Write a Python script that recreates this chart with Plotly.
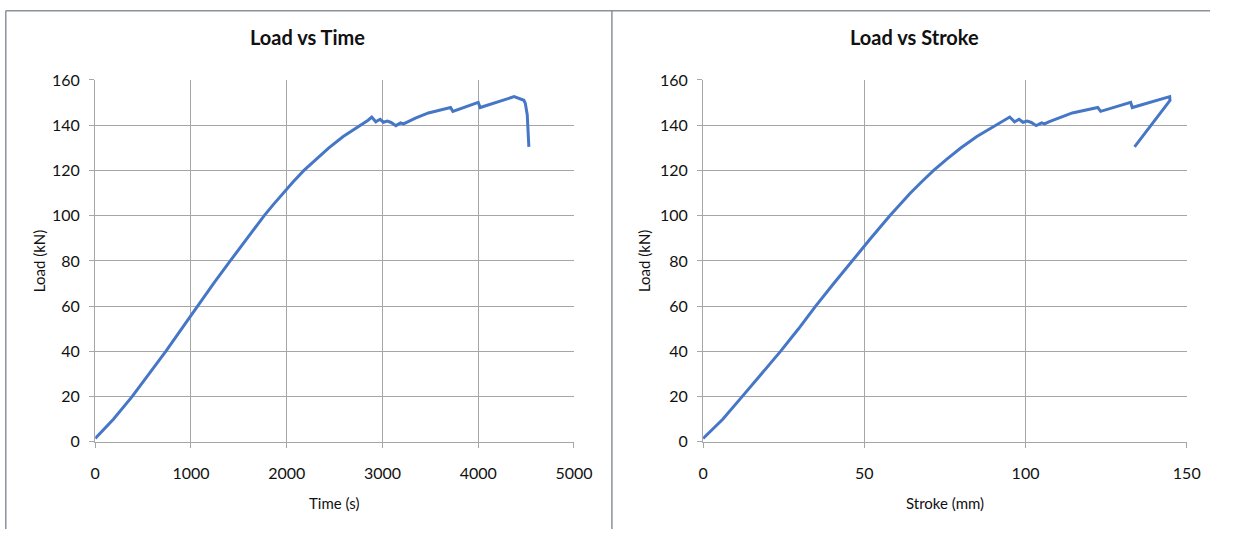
import plotly.graph_objects as go

# Load readings shared by both charts (kN)
load_kn = [1.5, 10, 20, 30, 40, 50, 60, 70, 80, 90, 100, 105, 110, 115, 120,
           125, 130, 135, 138, 140.5, 142.2, 143.6, 141.5, 142.6, 141.3, 141.8,
           141.2, 139.8, 141.0, 140.6, 141.5, 143.2, 145.4, 147.8, 146.1,
           150.1, 147.8, 152.6, 151.0, 149.6, 144.6, 137.5, 130.4]

# Elapsed test time for each reading (s)
time_s = [0, 190, 385, 565, 737, 902, 1065, 1235, 1410, 1585, 1765, 1862,
          1962, 2068, 2180, 2305, 2440, 2590, 2700, 2790, 2850, 2888, 2930,
          2975, 3010, 3050, 3090, 3140, 3190, 3220, 3260, 3350, 3480, 3711,
          3735, 4000, 4020, 4375, 4477, 4492, 4512, 4522, 4529]

# Crosshead stroke for each reading (mm)
stroke_mm = [0, 6.1, 12.1, 18.2, 24.0, 29.6, 34.9, 40.5, 46.2, 52.0, 57.9,
             61.0, 64.3, 67.8, 71.5, 75.6, 80.0, 84.9, 88.5, 91.5, 93.6, 95.1,
             96.6, 98.0, 99.2, 100.5, 101.8, 103.3, 105.0, 105.9, 107.2, 110.2,
             114.5, 122.4, 123.3, 132.6, 133.1, 144.7, 144.8, 144.1, 141.4,
             137.6, 133.8]

LINE_BLUE = "#4677c6"
GRID = "#a6a6a6"
FONT = "Lato, 'Open Sans', sans-serif"

# The page body keeps its default 8px margin, so the figure is sized to fit
# inside a 1245x554 window and positions are given in window pixels.
WIN_W, WIN_H, PAD = 1245, 554, 8
W, H = WIN_W - 2 * PAD, WIN_H - 2 * PAD


def px_x(v):
    return (v - PAD) / W


def px_y(v):
    return (WIN_H - PAD - v) / H


fig = go.Figure()
fig.add_trace(go.Scatter(x=time_s, y=load_kn, mode="lines",
                         line=dict(color=LINE_BLUE, width=3),
                         xaxis="x", yaxis="y", showlegend=False))
fig.add_trace(go.Scatter(x=stroke_mm, y=load_kn, mode="lines",
                         line=dict(color=LINE_BLUE, width=3),
                         xaxis="x2", yaxis="y2", showlegend=False))

common_axis = dict(showgrid=True, gridcolor=GRID, gridwidth=1.3,
                   showline=True, linecolor=GRID, linewidth=1.3,
                   zeroline=False, ticks="outside", ticklen=5,
                   tickcolor=GRID, tickwidth=1.3,
                   tickfont=dict(family=FONT, size=16, color="#111"))

y_dom = [px_y(455.7), px_y(80.5)]

fig.update_layout(
    width=W, height=H,
    margin=dict(l=0, r=0, t=0, b=0),
    paper_bgcolor="white", plot_bgcolor="white",
    xaxis=dict(domain=[px_x(100), px_x(588.3)], range=[0, 5000], dtick=1000,
               anchor="y", ticklabelstandoff=12, **common_axis),
    yaxis=dict(domain=y_dom, range=[0, 160], dtick=20,
               anchor="x", ticklabelstandoff=6, **common_axis),
    xaxis2=dict(domain=[px_x(720), px_x(1213.3)], range=[0, 150], dtick=50,
                anchor="y2", ticklabelstandoff=12, **common_axis),
    yaxis2=dict(domain=y_dom, range=[0, 160], dtick=20,
                anchor="x2", ticklabelstandoff=6, **common_axis),
)

annotations = [
    # Chart titles
    dict(text="<b>Load vs Time</b>", x=px_x(317), y=px_y(36), size=20),
    dict(text="<b>Load vs Stroke</b>", x=px_x(936), y=px_y(36), size=20),
    # Axis titles
    dict(text="Time (s)", x=px_x(344), y=px_y(519), size=15),
    dict(text="Stroke (mm)", x=px_x(967), y=px_y(519), size=15),
    dict(text="Load (kN)", x=px_x(42), y=px_y(268), size=15, angle=-90),
    dict(text="Load (kN)", x=px_x(660), y=px_y(268), size=15, angle=-90),
]
fig.update_layout(annotations=[
    dict(text=a["text"], x=a["x"], y=a["y"], xref="paper", yref="paper",
         xanchor="center", yanchor="middle", showarrow=False,
         textangle=a.get("angle", 0),
         font=dict(family=FONT, size=a["size"], color="#111"))
    for a in annotations
])

# Chart-area frames around the two panels
frame = dict(color="#8a929c", width=1.5)
top = px_y(8.8)
left = px_x(8.8)
fig.update_layout(shapes=[
    dict(type="line", xref="paper", yref="paper", x0=left, x1=1,
         y0=top, y1=top, line=frame),
    dict(type="line", xref="paper", yref="paper", x0=left, x1=left,
         y0=top, y1=0, line=frame),
    dict(type="line", xref="paper", yref="paper", x0=px_x(627), x1=px_x(627),
         y0=top, y1=0, line=frame),
])

fig.write_html("out.html")
